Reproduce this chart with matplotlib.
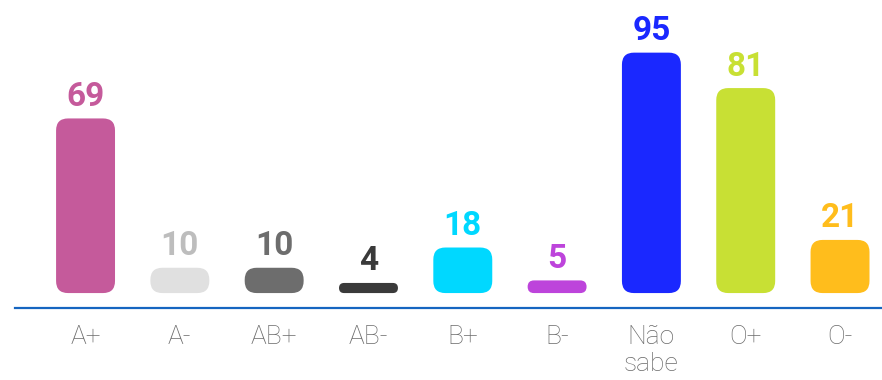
import matplotlib
matplotlib.use('Agg')
from matplotlib import pyplot as plt
from matplotlib.patches import FancyBboxPatch

## 数据
categorias = ['A+', 'A-', 'AB+', 'AB-', 'B+', 'B-', 'Não\nsabe', 'O+', 'O-']
valores = [69, 10, 10, 4, 18, 5, 95, 81, 21]
cores = ['#C55A9B', '#E0E0E0', '#6D6D6D', '#3A3A3A', '#00D8FF',
         '#BD44DB', '#1A28FF', '#C8E034', '#FFBD1C']
cores_texto = ['#C55A9B', '#BDBDBD', '#6D6D6D', '#3A3A3A', '#00D8FF',
               '#BD44DB', '#1A28FF', '#C8E034', '#FFBD1C']

plt.rcParams['font.family'] = ['Roboto', 'DejaVu Sans']

fig = plt.figure(dpi=100, figsize=(8.82, 3.8))
ax = fig.add_axes([15 / 882, 72 / 380, 867 / 882, 308 / 380])
ax.set_xlim(-0.748, 8.445)
ax.set_ylim(-5.9, 115.8)

## 每个单位对应多少像素，用来算圆角
fig.canvas.draw()
p0 = ax.transData.transform((0, 0))
p1 = ax.transData.transform((1, 1))
px_x = p1[0] - p0[0]
px_y = p1[1] - p0[1]

largura = 0.625
for i, (v, c, ct) in enumerate(zip(valores, cores, cores_texto)):
    altura_px = v * px_y
    r_px = min(12, altura_px / 2)
    barra = FancyBboxPatch((i - largura / 2, 0), largura, v,
                           boxstyle='round,pad=0,rounding_size=%f' % (r_px / px_x),
                           mutation_aspect=px_x / px_y,
                           facecolor=c, edgecolor='none')
    ax.add_patch(barra)
    ax.annotate(str(v), (i, v), xytext=(0, 4), textcoords='offset points',
                ha='center', va='bottom', fontsize=24, fontweight='bold', color=ct)

ax.set_xticks(range(len(categorias)))
ax.set_xticklabels(categorias, fontsize=19, color='#6A6A6A', fontweight='light',
                   linespacing=1.15)
ax.tick_params(axis='x', length=0, pad=12)
ax.set_yticks([])

for lado in ['top', 'right', 'left']:
    ax.spines[lado].set_visible(False)
ax.spines['bottom'].set_color('#1565C0')
ax.spines['bottom'].set_linewidth(1.6)

plt.savefig('out.png', dpi=100)
